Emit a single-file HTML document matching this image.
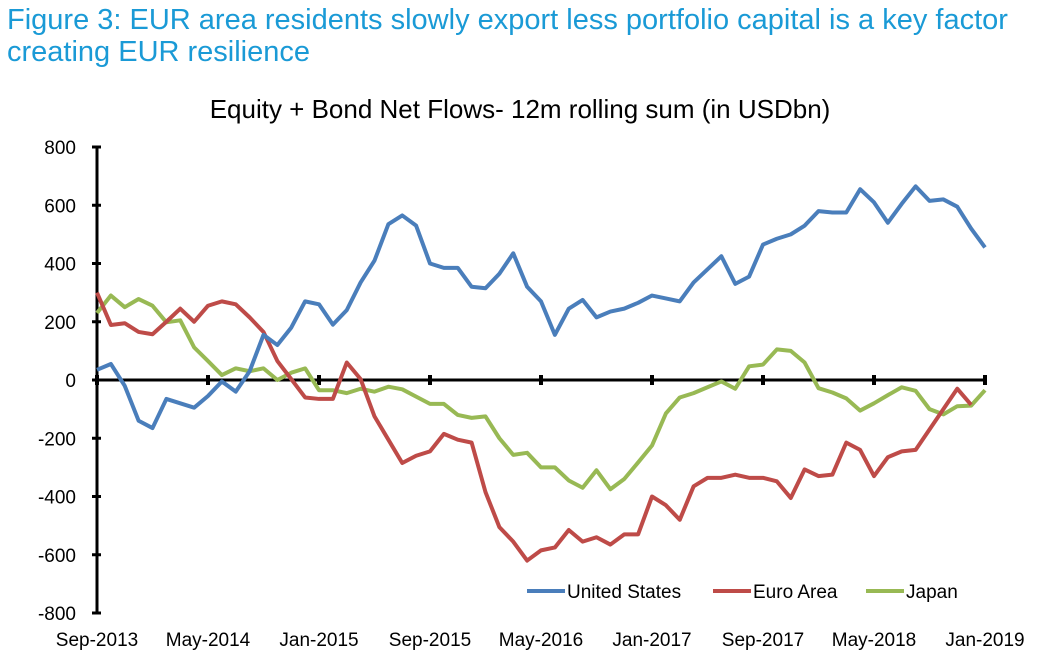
<!DOCTYPE html>
<html><head><meta charset="utf-8"><style>
body{margin:0;background:#fff;width:1058px;height:669px;overflow:hidden;font-family:"Liberation Sans",sans-serif}
.fig{position:absolute;left:7px;top:4px;color:#1a9ad6;font-size:29px;line-height:32px;white-space:nowrap}
</style></head><body>
<div class="fig">Figure 3: EUR area residents slowly export less portfolio capital is a key factor<br>creating EUR resilience</div>
<svg id="chart" width="1058" height="669" style="position:absolute;left:0;top:0"></svg>
<script>
const categories=["Sep-2013","May-2014","Jan-2015","Sep-2015","May-2016","Jan-2017","Sep-2017","May-2018","Jan-2019"];
const yTicks=[800,600,400,200,0,-200,-400,-600,-800];
const usValues=[35,55,-20,-140,-165,-65,-80,-95,-55,-5,-40,30,155,120,180,270,260,190,240,335,410,535,565,530,400,385,385,320,315,365,435,320,270,155,245,275,215,235,245,265,290,280,270,335,380,425,330,355,465,485,500,530,580,575,575,655,610,540,605,665,615,620,595,520,455];
const euroValues=[300,189,195,165,157,200,245,200,255,270,260,215,165,65,3,-60,-65,-65,60,3,-125,-205,-285,-260,-245,-185,-205,-215,-385,-505,-555,-620,-585,-575,-515,-555,-540,-565,-530,-530,-400,-430,-480,-365,-336,-336,-325,-336,-336,-348,-405,-307,-330,-325,-215,-240,-330,-265,-245,-240,-170,-100,-30,-85];
const japanValues=[230,290,250,278,255,198,205,112,65,17,40,30,40,0,25,40,-35,-35,-45,-30,-40,-23,-32,-57,-82,-82,-120,-130,-125,-200,-257,-250,-300,-300,-345,-370,-310,-375,-340,-283,-225,-115,-60,-45,-25,-5,-30,47,53,105,100,60,-28,-43,-63,-105,-80,-52,-25,-37,-100,-118,-90,-88,-35];
const NS="http://www.w3.org/2000/svg";
const svg=document.getElementById('chart');
const x0=97,x1=985,nMonths=64;
const xs=i=>x0+(x1-x0)*i/nMonths;
const ys=v=>380-v*(233/800);
function mk(t,a,p){const e=document.createElementNS(NS,t);for(const k in a)e.setAttribute(k,a[k]);(p||svg).appendChild(e);return e;}
const title=mk('text',{x:520,y:118,'text-anchor':'middle','font-size':'26','fill':'#000'});
title.textContent='Equity + Bond Net Flows- 12m rolling sum (in USDbn)';


const yAxis=mk('line',{x1:x0,y1:ys(800),x2:x0,y2:ys(-800),stroke:'#000','stroke-width':3});


yTicks.forEach(v=>{
 mk('line',{x1:x0-5,y1:ys(v),x2:x0+4,y2:ys(v),stroke:'#000','stroke-width':3});
 const t=mk('text',{x:76,y:ys(v)+7,'text-anchor':'end','font-size':'19'});
 t.textContent=v;
 
 
});
const xAxis=mk('line',{x1:x0,y1:ys(0),x2:x1+2,y2:ys(0),stroke:'#000','stroke-width':3});


categories.forEach((c,k)=>{
 const x=xs(k*8);
 mk('line',{x1:x,y1:ys(0)-5,x2:x,y2:ys(0)+5,stroke:'#000','stroke-width':4});
 const t=mk('text',{x:x,y:646,'text-anchor':'middle','font-size':'19'});
 t.textContent=c;
 
 
});
function series(vals,color,name){
 const p=mk('polyline',{points:vals.map((v,i)=>xs(i)+','+ys(v)).join(' '),fill:'none',stroke:color,'stroke-width':4,'stroke-linejoin':'round'});
 
 
}
series(japanValues,'#98b954','japan-line');
series(euroValues,'#be4b48','euro-area-line');
series(usValues,'#4a7ebb','united-states-line');
[['United States','#4a7ebb',527],['Euro Area','#be4b48',713],['Japan','#98b954',866]].forEach(([n,c,x])=>{
 const g=mk('g',{});
 
 
 mk('line',{x1:x,y1:591,x2:x+38,y2:591,stroke:c,'stroke-width':4},g);
 const t=mk('text',{x:x+40,y:598,'font-size':'19'},g);
 t.textContent=n;
});
</script>
</body></html>
